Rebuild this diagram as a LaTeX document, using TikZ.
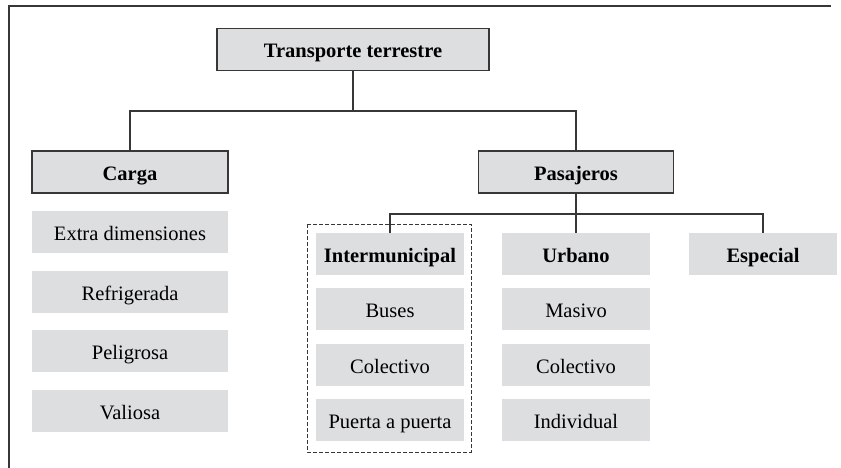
\documentclass[tikz,border=0pt]{standalone}
\usepackage{fontspec}
\setmainfont{Liberation Serif}
\definecolor{boxgray}{RGB}{221,222,224}
\definecolor{linegray}{RGB}{55,55,55}
\begin{document}
\begin{tikzpicture}[x=1pt,y=-1pt,
    every node/.style={font=\fontsize{20.5}{24}\selectfont, inner sep=0pt, minimum height=42pt, text height=17pt, text depth=1pt},
    headbox/.style={draw=linegray, line width=1.2pt, fill=boxgray, font=\fontsize{20.5}{24}\selectfont\bfseries},
    itembox/.style={fill=boxgray, minimum width=196pt},
    subhead/.style={fill=boxgray, minimum width=148pt, font=\fontsize{20.5}{24}\selectfont\bfseries},
    subitem/.style={fill=boxgray, minimum width=148pt},
    link/.style={draw=linegray, line width=1.2pt}]
  \useasboundingbox (0,0) rectangle (841,468);
  \draw[linegray, line width=1.2pt] (9,468) -- (9,6) -- (831,6);

  % main levels
  \node[headbox, minimum width=272pt] (root) at (353,49.5) {Transporte terrestre};
  \node[headbox, minimum width=196pt] (carga) at (130,172) {Carga};
  \node[headbox, minimum width=195pt] (pasaj) at (576,172) {Pasajeros};

  % carga
  \node[itembox] (c1) at (130,232) {Extra dimensiones};
  \node[itembox] (c2) at (130,292) {Refrigerada};
  \node[itembox] (c3) at (130,351) {Peligrosa};
  \node[itembox] (c4) at (130,411) {Valiosa};

  % pasajeros
  \node[subhead] (inter) at (390,254) {Intermunicipal};
  \node[subhead] (urb) at (576,254) {Urbano};
  \node[subhead] (esp) at (763,254) {Especial};
  \node[subitem] (i1) at (390,309) {Buses};
  \node[subitem] (i2) at (390,365) {Colectivo};
  \node[subitem] (i3) at (390,420) {Puerta a puerta};
  \node[subitem] (u1) at (576,309) {Masivo};
  \node[subitem] (u2) at (576,365) {Colectivo};
  \node[subitem] (u3) at (576,420) {Individual};
  \draw[linegray, line width=1pt, dashed, dash pattern=on 4pt off 2pt] (307,224) rectangle (471,452);

  % connectors
  \coordinate (rj) at (353,111);
  \coordinate (pj) at (576,214);
  \draw[link] (root.south) -- (rj) -| (carga.north);
  \draw[link] (rj) -| (pasaj.north);
  \draw[link] (pasaj.south) -- (pj) -- (urb.north);
  \draw[link] (pj) -| (inter.north);
  \draw[link] (pj) -| (esp.north);
\end{tikzpicture}
\end{document}
